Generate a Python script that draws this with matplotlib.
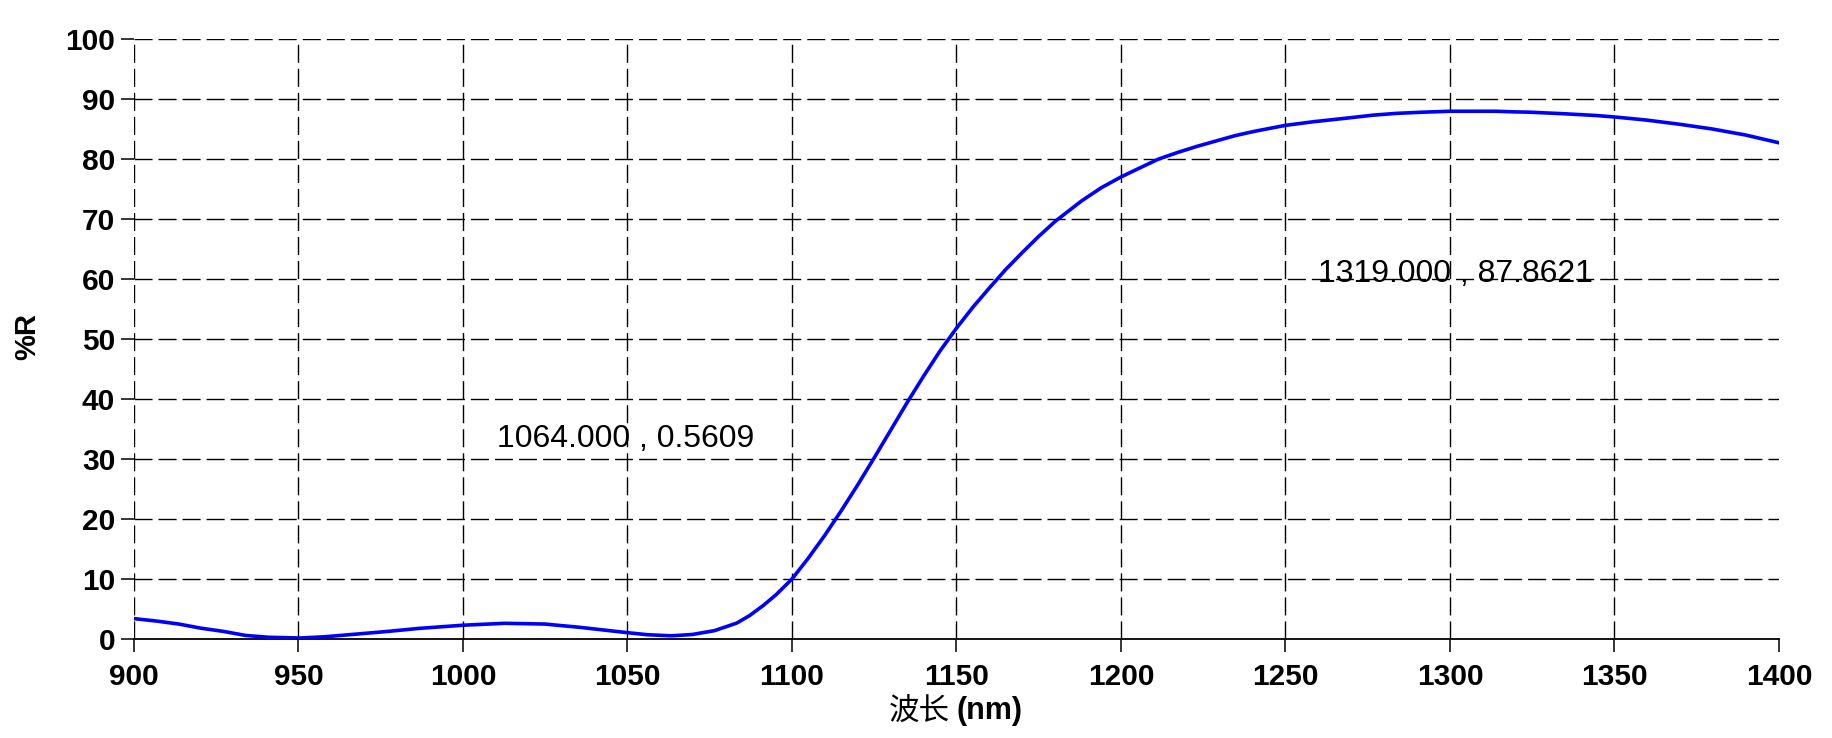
import numpy as np
import matplotlib
matplotlib.use("Agg")
import matplotlib.pyplot as plt

# ==== data ====
wavelength = [900, 906.8, 913.6, 920.4, 927.1, 933.9, 940.7, 950.5, 958.3, 967.8,
              977.3, 986.8, 1000, 1012.6, 1024.8, 1035.7, 1043.8, 1050, 1056, 1062.8,
              1064, 1069.6, 1076.4, 1083.2, 1087.1, 1091.3, 1095.2, 1100, 1105,
              1110, 1115, 1120, 1125, 1130, 1135, 1140, 1145, 1150, 1155,
              1160, 1165, 1170, 1175, 1180, 1188, 1194, 1200,
              1205.7, 1211.5, 1217.3, 1223.1, 1228.9, 1234.8, 1240.5, 1250, 1258.4,
              1268.5, 1276.6, 1283.7, 1291.8, 1300, 1314, 1319, 1324.1, 1334.2, 1344.3,
              1350, 1359.5, 1369.6, 1379.7, 1389.8, 1400]
reflect = [3.4, 3.0, 2.5, 1.8, 1.28, 0.6, 0.3, 0.17, 0.39, 0.83,
           1.28, 1.78, 2.3, 2.62, 2.5, 1.94, 1.44, 1.06, 0.72, 0.55,
           0.56, 0.75, 1.39, 2.65, 3.9, 5.6, 7.4, 10.0, 13.5,
           17.3, 21.4, 25.7, 30.2, 34.8, 39.4, 43.8, 48.0, 51.8, 55.3,
           58.5, 61.6, 64.4, 67.1, 69.6, 73.0, 75.2, 77.0,
           78.5, 80.0, 81.1, 82.1, 83.0, 83.9, 84.6, 85.6, 86.2,
           86.8, 87.3, 87.6, 87.8, 87.95, 87.95, 87.86, 87.8, 87.55, 87.25,
           87.0, 86.5, 85.8, 85.0, 84.0, 82.7]

annotations = [("1064.000 , 0.5609", 1010.3, 33.3),
               ("1319.000 , 87.8621", 1260.0, 60.8)]

xticks = np.arange(900, 1401, 50)
yticks = np.arange(0, 101, 10)

plt.rcParams['font.family'] = ['Liberation Sans', 'Noto Sans CJK SC', 'DejaVu Sans']

fig = plt.figure(figsize=(18.33, 7.38), dpi=100)
ax = fig.add_axes([0.0731, 0.1341, 0.9705 - 0.0731, 0.9472 - 0.1341])

ax.plot(wavelength, reflect, color="#0000ff", linewidth=2.6, zorder=3)

ax.set_xlim(900, 1400)
ax.set_ylim(0, 100)
ax.set_xticks(xticks)
ax.set_yticks(yticks)

for side in ["top", "right", "left"]:
    ax.spines[side].set_visible(False)
ax.spines["bottom"].set_linewidth(1.3)

ax.tick_params(axis="both", direction="out", length=9.5, width=1.1, color="black",
               labelsize=21.5)
ax.tick_params(axis="x", pad=8)
ax.tick_params(axis="y", pad=4)
for lab in ax.get_xticklabels() + ax.get_yticklabels():
    lab.set_fontweight("bold")

ax.grid(True, color="black", linewidth=1.0, linestyle=(0, (13.0, 4.3)))
# no vertical grid line at the right end, none on the baseline
ax.xaxis.get_gridlines()[-1].set_visible(False)
ax.yaxis.get_gridlines()[0].set_visible(False)

for txt, x, y in annotations:
    ax.text(x, y, txt, fontsize=23, ha="left", va="center", color="black", zorder=4)

# ==== labels ====
fig.text(27 / 1833, 1 - 337 / 738, "%R", rotation=90, fontsize=21, fontweight="bold",
         ha="center", va="center")
fig.text(950 / 1833, 1 - 711 / 738, "波长", fontsize=22, family=['Noto Sans CJK SC'],
         ha="right", va="center")
fig.text(956 / 1833, 1 - 711 / 738, "(nm)", fontsize=22, fontweight="bold",
         ha="left", va="center")

fig.savefig("out.png", dpi=100)
